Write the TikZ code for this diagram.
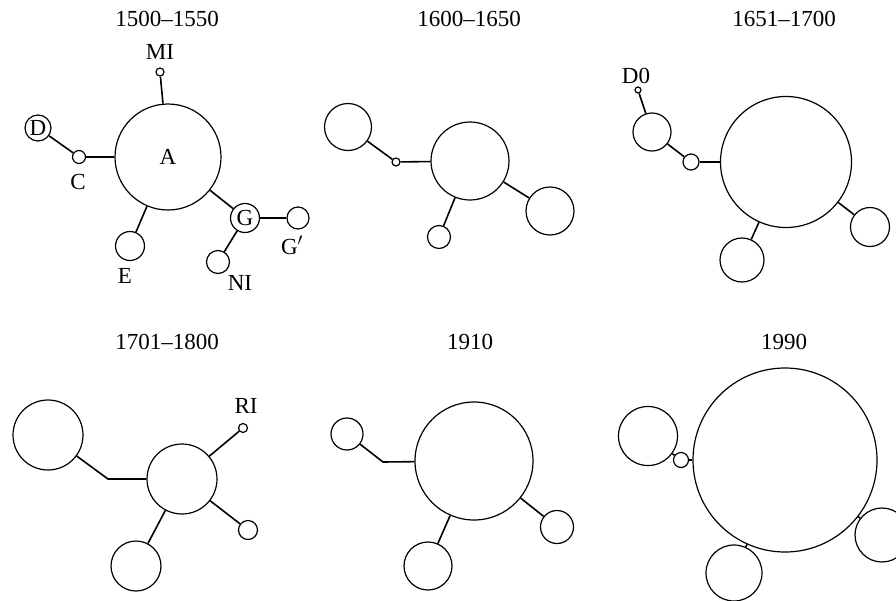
\documentclass[tikz,border=0pt]{standalone}
\usepackage{fontspec}
\setmainfont{Liberation Serif}
\usepackage{tikz}
\tikzset{
  hap/.style={circle,draw,inner sep=0pt,line width=1.2pt},
  link/.style={line width=1.6pt},
  period/.style={font=\fontsize{23}{26}\selectfont},
  tag/.style={font=\fontsize{23}{26}\selectfont,inner sep=0pt}
}

\begin{document}
\begin{tikzpicture}[x=1pt,y=-1pt]
\useasboundingbox (0,0) rectangle (896,600);

% 1500--1550
\node[period] (t1) at (167,19) {1500--1550};
\node[hap,minimum size=106pt,font=\fontsize{23}{26}\selectfont] (A) at (168,157) {A};
\node[hap,minimum size=8pt] (MI) at (160,72) {};
\node[hap,minimum size=26pt,font=\fontsize{23}{26}\selectfont] (D) at (38,128) {D};
\node[hap,minimum size=13pt] (C) at (79,157) {};
\node[hap,minimum size=29pt] (E) at (130,246) {};
\node[hap,minimum size=29pt,font=\fontsize{23}{26}\selectfont] (G) at (245,218) {G};
\node[hap,minimum size=22pt] (Gp) at (298,218) {};
\node[hap,minimum size=23pt] (NI) at (218,262) {};
\node[tag] (lMI) at (160,52) {MI};
\node[tag] (lC) at (78,182) {C};
\node[tag] (lE) at (125,276) {E};
\node[tag] (lGp) at (292,245) {G$'$};
\node[tag] (lNI) at (240,283) {NI};
\draw[link] (MI) -- (A);
\draw[link] (D) -- (C);
\draw[link] (C) -- (A);
\draw[link] (E) -- (A);
\draw[link] (A) -- (G);
\draw[link] (G) -- (Gp);
\draw[link] (G) -- (NI);

% 1600--1650
\node[period] (t2) at (469,19) {1600--1650};
\node[hap,minimum size=78pt] (b1) at (470,161) {};
\node[hap,minimum size=47pt] (b2) at (348,127) {};
\node[hap,minimum size=8pt] (b3) at (396,162) {};
\node[hap,minimum size=23pt] (b4) at (439,237) {};
\node[hap,minimum size=48pt] (b5) at (550,211) {};
\draw[link] (b2) -- (b3);
\draw[link] (b3) -- (b1);
\draw[link] (b4) -- (b1);
\draw[link] (b1) -- (b5);

% 1651--1700
\node[period] (t3) at (784,19) {1651--1700};
\node[hap,minimum size=131pt] (c1) at (786,162) {};
\node[hap,minimum size=6pt] (D0) at (638,90) {};
\node[hap,minimum size=38pt] (c2) at (652,132) {};
\node[hap,minimum size=16pt] (c3) at (691,162) {};
\node[hap,minimum size=44pt] (c4) at (742,260) {};
\node[hap,minimum size=39pt] (c5) at (870,227) {};
\node[tag] (lD0) at (636,76) {D0};
\draw[link] (D0) -- (c2);
\draw[link] (c2) -- (c3);
\draw[link] (c3) -- (c1);
\draw[link] (c4) -- (c1);
\draw[link] (c1) -- (c5);

% 1701--1800
\node[period] (t4) at (167,342) {1701--1800};
\node[hap,minimum size=70pt] (d1) at (182,479) {};
\node[hap,minimum size=70pt] (d2) at (48,435) {};
\node[hap,minimum size=9pt] (RI) at (243,428) {};
\node[hap,minimum size=19pt] (d3) at (248,530) {};
\node[hap,minimum size=50pt] (d4) at (136,566) {};
\node[tag] (lRI) at (246,406) {RI};
\coordinate (d5) at (108,479);
\draw[link] (d2) -- (d5) -- (d1);
\draw[link] (d1) -- (RI);
\draw[link] (d1) -- (d3);
\draw[link] (d4) -- (d1);

% 1910
\node[period] (t5) at (470,342) {1910};
\node[hap,minimum size=118pt] (e1) at (474,461) {};
\node[hap,minimum size=32pt] (e2) at (347,434) {};
\node[hap,minimum size=33pt] (e3) at (557,527) {};
\node[hap,minimum size=48pt] (e4) at (428,566) {};
\coordinate (e5) at (383,462);
\draw[link] (e2) -- (e5) -- (e1);
\draw[link] (e1) -- (e3);
\draw[link] (e4) -- (e1);

% 1990
\node[period] (t6) at (784,342) {1990};
\node[hap,minimum size=184pt] (f1) at (785,460) {};
\node[hap,minimum size=59pt] (f2) at (648,436) {};
\node[hap,minimum size=15pt] (f3) at (681,460) {};
\node[hap,minimum size=56pt] (f4) at (734,573) {};
\node[hap,minimum size=54pt] (f5) at (882,535) {};
\draw[link] (f2) -- (f3);
\draw[link] (f3) -- (f1);
\draw[link] (f4) -- (f1);
\draw[link] (f1) -- (f5);
\end{tikzpicture}
\end{document}
